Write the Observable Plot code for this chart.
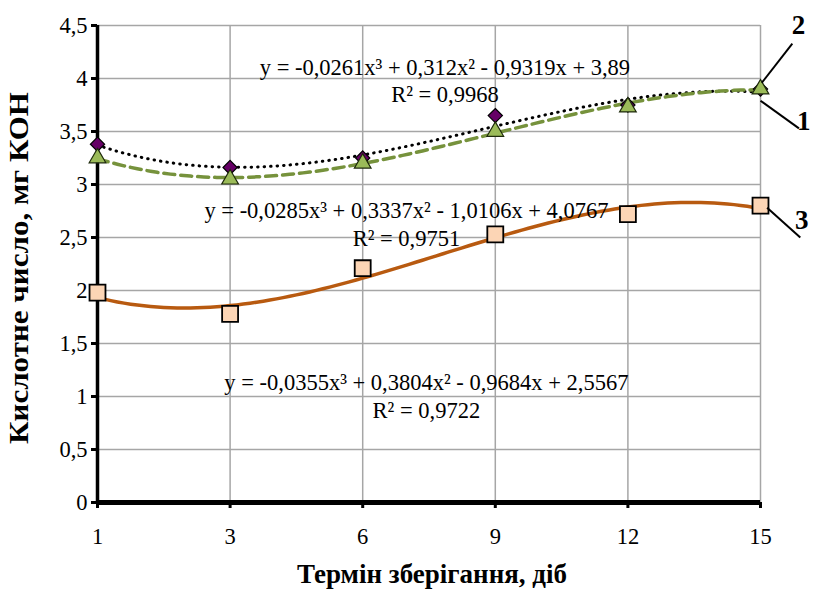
<!DOCTYPE html>
<html><head><meta charset="utf-8">
<script src="https://cdn.jsdelivr.net/npm/d3@7"></script>
<script src="https://cdn.jsdelivr.net/npm/@observablehq/plot@0.6"></script>
<style>
body{margin:0;background:#fff}
svg, svg text { font-family: "Liberation Serif", "Times New Roman", serif !important; }
</style>
</head><body><div id="chart"></div>
<script>
// categories (storage term, days) shown at equal spacing
const days = [1, 3, 6, 9, 12, 15];
// series values
const series1 = [3.38, 3.16, 3.25, 3.65, 3.75, 3.90]; // diamonds, dotted trend
const series2 = [3.25, 3.05, 3.20, 3.50, 3.73, 3.90]; // triangles, dashed trend
const series3 = [1.98, 1.78, 2.21, 2.53, 2.72, 2.80]; // squares, solid trend
// cubic trendline coefficients (a x^3 + b x^2 + c x + d), x = category index
const trend1 = [-0.0285, 0.3337, -1.0106, 4.0767];
const trend2 = [-0.0261, 0.312, -0.9319, 3.89];
const trend3 = [-0.0355, 0.3804, -0.9684, 2.5567];
const yTicks = [0, 0.5, 1, 1.5, 2, 2.5, 3, 3.5, 4, 4.5];
const eqTexts = [
  "y = -0,0261x³ + 0,312x² - 0,9319x + 3,89\nR² = 0,9968",
  "y = -0,0285x³ + 0,3337x² - 1,0106x + 4,0767\nR² = 0,9751",
  "y = -0,0355x³ + 0,3804x² - 0,9684x + 2,5567\nR² = 0,9722"
];
const seriesLabels = ["1", "2", "3"];
const yTitle = "Кислотне число, мг КОН";
const xTitle = "Термін зберігання, діб";

const idx = days.map((d, i) => i + 1);
const pts = (vals) => vals.map((v, i) => ({t: i + 1, v}));
const poly = (c) => d3.range(1, 6.001, 0.05).map(t => ({t, v: ((c[0]*t + c[1])*t + c[2])*t + c[3]}));
const fmt = d => String(d).replace(".", ",");
const serif = "Liberation Serif, Times New Roman, serif";

const chart = Plot.plot({
  width: 816, height: 597,
  marginLeft: 97, marginRight: 56, marginTop: 25, marginBottom: 95,
  style: {fontFamily: serif, background: "#fff", color: "#000"},
  x: {domain: [1, 6]},
  y: {domain: [0, 4.5]},
  marks: [
    Plot.gridY(yTicks, {stroke: "#a6a6a6", strokeOpacity: 1, strokeWidth: 1.5}),
    Plot.gridX(idx, {stroke: "#a6a6a6", strokeOpacity: 1, strokeWidth: 1.5}),
    Plot.axisY(yTicks, {tickFormat: fmt, tickSize: 6, strokeWidth: 3, tickPadding: 4, fontSize: 22.5, label: null}),
    Plot.axisX(idx, {tickFormat: i => days[i - 1], tickSize: 6, strokeWidth: 3, tickPadding: 20, fontSize: 22.5, label: null}),
    Plot.ruleX([1], {stroke: "#000", strokeWidth: 3.5}),
    Plot.ruleY([0], {stroke: "#000", strokeWidth: 5}),
    Plot.line(poly(trend3), {x: "t", y: "v", stroke: "#b85a10", strokeWidth: 3.5}),
    Plot.line(poly(trend1), {x: "t", y: "v", stroke: "#000", strokeWidth: 3, strokeDasharray: "0.5,6", strokeLinecap: "round"}),
    Plot.line(poly(trend2), {x: "t", y: "v", stroke: "#76923c", strokeWidth: 3.5, strokeDasharray: "11,6"}),
    Plot.dot(pts(series3), {x: "t", y: "v", symbol: "square", r: 9, fill: "#fcd5b5", stroke: "#000", strokeWidth: 1.8}),
    Plot.dot(pts(series1), {x: "t", y: "v", symbol: "diamond2", r: 6.4, fill: "#660066", stroke: "#000", strokeWidth: 1.2}),
    Plot.dot(pts(series2), {x: "t", y: "v", symbol: "triangle", r: 6.2, fill: "#9bbb59", stroke: "#1e2a0c", strokeWidth: 1.2}),
    Plot.text(eqTexts, {x: [3.62, 3.33, 3.48], y: [3.99, 2.64, 1.01], text: d => d, fontSize: 22.5, lineHeight: 1.24, textAnchor: "middle", fill: "#000"}),
    // leader lines to series labels
    Plot.link([0, 1, 2], {x1: [6.0, 6.01, 6.05], y1: [3.79, 3.96, 2.78], x2: [6.29, 6.24, 6.30], y2: [3.53, 4.33, 2.5], stroke: "#000", strokeWidth: 2, clip: false}),
    Plot.text(seriesLabels, {x: [6.33, 6.29, 6.315], y: [3.59, 4.5, 2.66], text: d => d, fontSize: 27, fontWeight: "bold", textAnchor: "middle", dx: [0, 0, 6], fill: "#000"}),
    Plot.text([yTitle], {frameAnchor: "left", dx: -78, dy: 4, rotate: -90, textAnchor: "middle", fontSize: 28, fontWeight: "bold", fill: "#000", className: "ytitle"}),
    Plot.text([xTitle], {frameAnchor: "bottom", dy: 80, dx: 3, fontSize: 27, fontWeight: "bold", fill: "#000"})
  ]
});
// stretch the rotated y title to the reference's length
chart.querySelectorAll("text").forEach(t => {
  if (t.textContent === yTitle) { t.setAttribute("textLength", 352); t.setAttribute("lengthAdjust", "spacingAndGlyphs"); }
});
document.getElementById("chart").appendChild(chart);
</script>
</body></html>
